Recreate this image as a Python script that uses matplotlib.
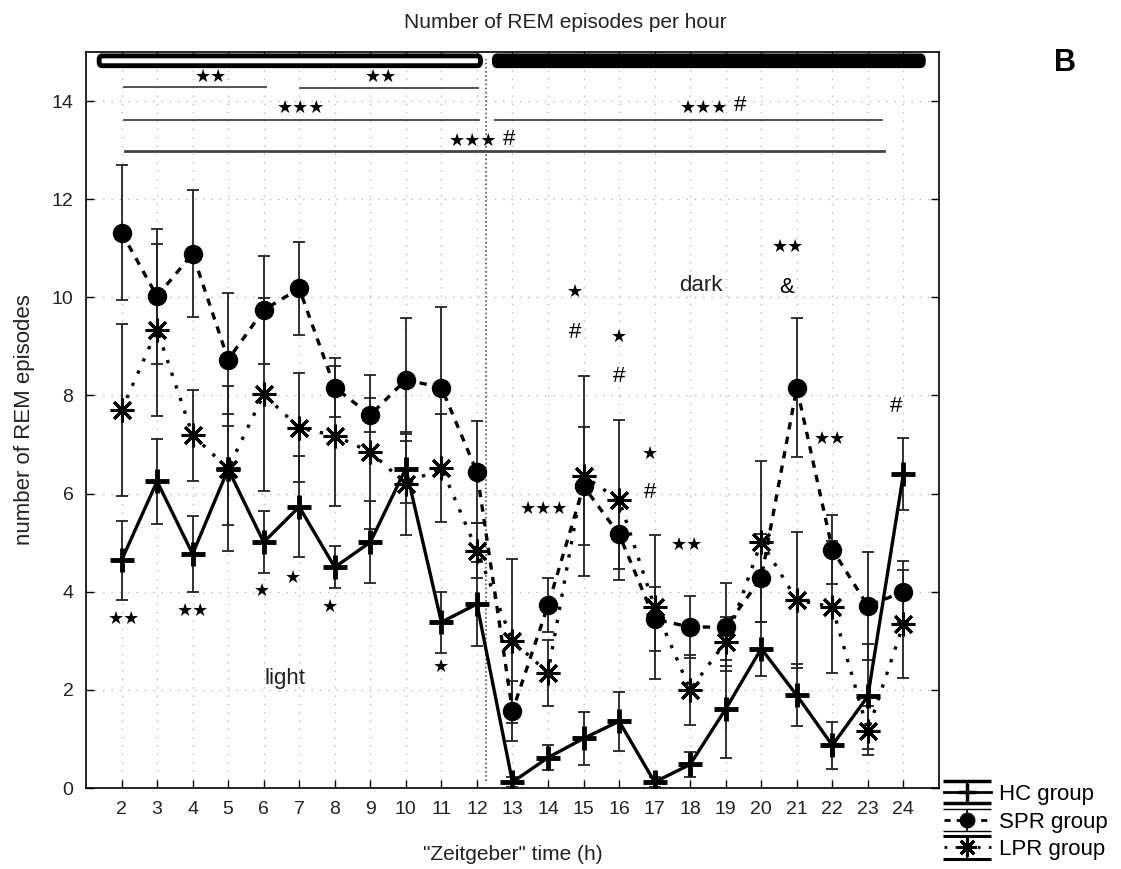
import numpy as np
import matplotlib
matplotlib.use("Agg")
import matplotlib.pyplot as plt
from matplotlib.patches import FancyBboxPatch

# Zeitgeber hours
hours = list(range(2, 25))

# HC group
hc_mean = [4.64, 6.25, 4.77, 6.5, 5.01, 5.73, 4.5, 5.01, 6.51, 3.38, 3.75, 0.12,
           0.62, 1.01, 1.36, 0.12, 0.48, 1.61, 2.84, 1.89, 0.87, 1.87, 6.4]
hc_err = [0.8, 0.87, 0.77, 1.13, 0.63, 1.03, 0.43, 0.83, 0.7, 0.62, 0.86, 0.1,
          0.26, 0.54, 0.6, 0.1, 0.26, 1.0, 0.55, 0.63, 0.48, 1.07, 0.73]

# SPR group
spr_mean = [11.32, 10.02, 10.89, 8.73, 9.74, 10.18, 8.16, 7.6, 8.32, 8.16, 6.44, 1.57,
            3.72, 6.15, 5.17, 3.44, 3.28, 3.28, 4.28, 8.16, 4.86, 3.71, 4.0]
spr_err = [1.37, 1.38, 1.29, 1.36, 1.1, 0.94, 0.6, 0.35, 1.25, 1.64, 1.04, 0.62,
           0.55, 1.2, 0.7, 0.65, 0.63, 0.9, 0.9, 1.42, 0.71, 1.1, 0.62]

# LPR group
lpr_mean = [7.7, 9.34, 7.19, 6.51, 8.02, 7.34, 7.18, 6.85, 6.2, 6.53, 4.84, 3.0,
            2.35, 6.36, 5.87, 3.69, 2.0, 2.98, 5.02, 3.83, 3.69, 1.17, 3.34]
lpr_err = [1.75, 1.75, 0.93, 1.68, 1.97, 1.11, 1.43, 1.57, 1.05, 1.1, 0.57, 1.67,
           0.67, 2.03, 1.63, 1.47, 0.72, 0.5, 1.64, 1.38, 1.34, 0.5, 1.1]

plt.rcParams['font.family'] = ['Liberation Sans', 'DejaVu Sans']

fig = plt.figure(figsize=(11.21, 8.69), dpi=100)
ax = fig.add_axes([0.0767, 0.0932, 0.7609, 0.847])

asterisk = (8, 2, 0)
series = [
    (hc_mean, hc_err, 'HC group', '-', '+', 17, 3.5),
    (spr_mean, spr_err, 'SPR group', (0, (2.2, 2.2)), 'o', 13, 1.0),
    (lpr_mean, lpr_err, 'LPR group', (0, (1, 3)), asterisk, 17, 2.2),
]

handles = []
for mean, err, label, ls, mk, ms, mew in series:
    ax.errorbar(hours, mean, yerr=err, fmt='none', ecolor='#222222',
                elinewidth=1.3, capsize=4, capthick=1.3, zorder=3)
    ax.plot(hours, mean, color='black', linestyle=ls, linewidth=2.4, marker=mk,
            markersize=ms, markeredgewidth=mew, markerfacecolor='black',
            markeredgecolor='black', zorder=4)
    # legend-only handle with wide caps, like the original icon
    h = ax.errorbar([np.nan], [np.nan], yerr=[1], color='black', ecolor='black',
                    elinewidth=1.2, capsize=17, capthick=1.3, linestyle=ls,
                    linewidth=2.0, marker=mk, markersize=ms * 0.8,
                    markeredgewidth=min(mew, 2.5), markerfacecolor='black',
                    markeredgecolor='black')
    handles.append(h)

ax.set_xlim(1, 25)
ax.set_ylim(0, 15)
ax.set_xticks(hours)
ax.set_yticks(range(0, 15, 2))
ax.tick_params(direction='in', top=True, right=True, length=6, width=1,
               labelsize=14, labelcolor='#222222', pad=9)
ax.grid(True, color='#bbbbbb', linestyle=(0, (1, 5)), linewidth=1)
ax.set_axisbelow(True)
for s in ax.spines.values():
    s.set_linewidth(1.2)

# light / dark bars
ax.add_patch(FancyBboxPatch((1.37, 14.72), 12.1 - 1.37, 0.2,
                            boxstyle='round,pad=0,rounding_size=0.08',
                            facecolor='white', edgecolor='black', linewidth=3.5,
                            mutation_aspect=1.0, zorder=4))
ax.add_patch(FancyBboxPatch((12.49, 14.72), 24.56 - 12.49, 0.2,
                            boxstyle='round,pad=0,rounding_size=0.08',
                            facecolor='black', edgecolor='black', linewidth=3.5,
                            mutation_aspect=1.0, zorder=4))
ax.plot([12.25, 12.25], [0.15, 14.85], color='#555555', linestyle=(0, (1, 1.5)),
        linewidth=1.2, zorder=2)

# significance brackets
for x0, x1, y, lw in [(2.08, 6.07, 14.28, 1.3), (7.02, 12.03, 14.26, 1.3),
                      (2.08, 12.05, 13.62, 1.3), (12.51, 23.4, 13.62, 1.3),
                      (2.11, 23.45, 12.98, 2.0)]:
    ax.plot([x0, x1], [y, y], color='#444444', linewidth=lw, zorder=2)

star_kw = dict(ha='center', va='center', fontsize=13, family='DejaVu Sans',
               color='black', zorder=5)
hash_kw = dict(ha='center', va='center', fontsize=16, color='black', zorder=5)
for txt, x, y in [('\u2605\u2605', 4.53, 14.5), ('\u2605\u2605', 9.3, 14.5),
                  ('\u2605\u2605\u2605', 7.06, 13.85),
                  ('\u2605\u2605\u2605', 18.4, 13.85),
                  ('\u2605\u2605\u2605', 11.9, 13.18),
                  ('\u2605\u2605', 2.07, 3.44), ('\u2605\u2605', 4.0, 3.61),
                  ('\u2605', 5.94, 4.02), ('\u2605', 6.83, 4.28),
                  ('\u2605', 7.87, 3.69), ('\u2605', 11.0, 2.46),
                  ('\u2605\u2605\u2605', 13.88, 5.68), ('\u2605', 14.76, 10.1),
                  ('\u2605', 16.0, 9.2), ('\u2605', 16.87, 6.8),
                  ('\u2605\u2605', 17.9, 4.96), ('\u2605\u2605', 20.74, 11.02),
                  ('\u2605\u2605', 21.92, 7.12)]:
    ax.text(x, y, txt, **star_kw)
for txt, x, y in [('#', 19.4, 13.9), ('#', 12.9, 13.22), ('#', 14.76, 9.29),
                  ('#', 16.0, 8.39), ('#', 16.87, 6.03), ('&', 20.72, 10.21),
                  ('#', 23.78, 7.77)]:
    ax.text(x, y, txt, **hash_kw)

ax.text(6.6, 2.24, 'light', ha='center', va='center', fontsize=16, color='#222222')
ax.text(18.31, 10.25, 'dark', ha='center', va='center', fontsize=16, color='#222222')

ax.set_xlabel('"Zeitgeber" time (h)', fontsize=15, color='#222222', labelpad=20)
ax.set_ylabel('number of REM episodes', fontsize=16, color='#222222', labelpad=12)

fig.text(0.504, 0.974, 'Number of REM episodes per hour', ha='center', va='center',
         fontsize=15, color='#222222')
fig.text(0.95, 0.928, 'B', ha='center', va='center', fontsize=22,
         fontweight='bold', color='black')

fig.legend(handles, ['HC group', 'SPR group', 'LPR group'], loc='upper left',
           bbox_to_anchor=(0.842, 0.098), frameon=False, fontsize=16,
           handlelength=2.1, handletextpad=0.4, labelspacing=0.3,
           borderaxespad=0, borderpad=0)

fig.savefig('out.png', dpi=100)
